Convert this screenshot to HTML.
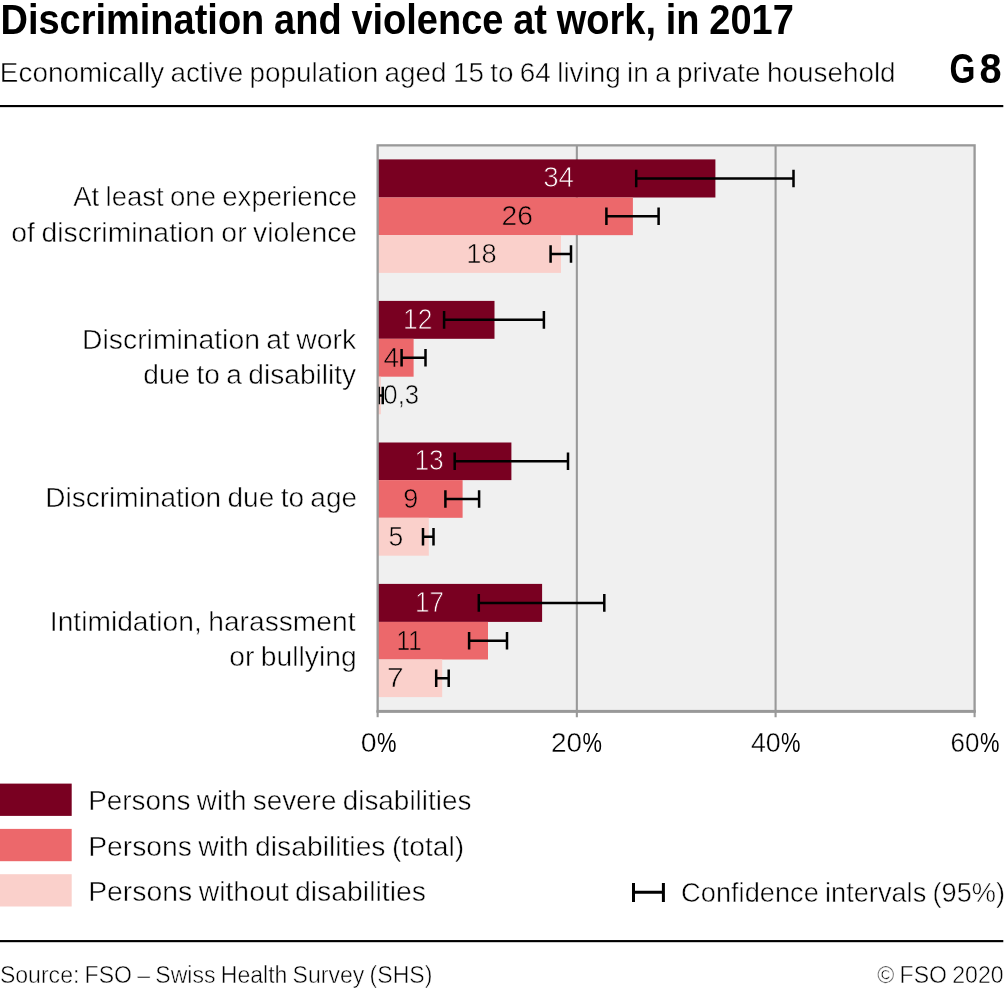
<!DOCTYPE html>
<html lang="en"><head><meta charset="utf-8"><title>Discrimination and violence at work, in 2017</title>
<style>html,body{margin:0;padding:0;background:#fff}svg{display:block}text{font-family:"Liberation Sans", sans-serif;}</style></head><body>
<svg width="1004" height="989" viewBox="0 0 1004 989">
<rect width="1004" height="989" fill="#fff"/>
<rect x="0" y="105" width="1003.3" height="2.15" fill="#000"/>
<rect x="0" y="940.05" width="1003.3" height="2.15" fill="#000"/>
<rect x="377.65" y="145.35" width="596.95" height="565.75" fill="#F0F0F0"/>
<line x1="576.85" y1="145.35" x2="576.85" y2="717.2" stroke="#999999" stroke-width="2.1"/>
<line x1="775.6" y1="145.35" x2="775.6" y2="717.2" stroke="#999999" stroke-width="2.1"/>
<rect x="377.65" y="159.4" width="337.75" height="38.1" fill="#790021"/>
<rect x="377.65" y="197.5" width="255.25" height="37.65" fill="#EC686B"/>
<rect x="377.65" y="235.15" width="183.35" height="37.75" fill="#FAD0CB"/>
<rect x="377.65" y="300.9" width="116.85" height="37.9" fill="#790021"/>
<rect x="377.65" y="338.8" width="35.95" height="37.9" fill="#EC686B"/>
<rect x="377.65" y="376.7" width="3.2" height="37.6" fill="#FAD0CB"/>
<rect x="377.65" y="442.5" width="133.75" height="37.6" fill="#790021"/>
<rect x="377.65" y="480.1" width="84.95" height="37.7" fill="#EC686B"/>
<rect x="377.65" y="517.8" width="51.15" height="37.9" fill="#FAD0CB"/>
<rect x="377.65" y="583.9" width="164.45" height="38" fill="#790021"/>
<rect x="377.65" y="621.9" width="110.35" height="37.6" fill="#EC686B"/>
<rect x="377.65" y="659.5" width="64.55" height="37.6" fill="#FAD0CB"/>
<path d="M636.2 169.65V187.25M793.5 169.65V187.25M636.2 178.45H793.5" stroke="#000" stroke-width="2.5" fill="none"/>
<path d="M606.4 207.52V225.12M658.6 207.52V225.12M606.4 216.32H658.6" stroke="#000" stroke-width="2.5" fill="none"/>
<path d="M550.6 245.22V262.82M571 245.22V262.82M550.6 254.02H571" stroke="#000" stroke-width="2.5" fill="none"/>
<path d="M444.1 311.05V328.65M543.9 311.05V328.65M444.1 319.85H543.9" stroke="#000" stroke-width="2.5" fill="none"/>
<path d="M401.6 348.95V366.55M425.5 348.95V366.55M401.6 357.75H425.5" stroke="#000" stroke-width="2.5" fill="none"/>
<path d="M378.7 386.7V404.3M382.75 386.7V404.3M378.7 395.5H382.75" stroke="#000" stroke-width="2.5" fill="none"/>
<path d="M454.7 452.5V470.1M568 452.5V470.1M454.7 461.3H568" stroke="#000" stroke-width="2.5" fill="none"/>
<path d="M445.4 490.15V507.75M479.1 490.15V507.75M445.4 498.95H479.1" stroke="#000" stroke-width="2.5" fill="none"/>
<path d="M423 527.95V545.55M433.5 527.95V545.55M423 536.75H433.5" stroke="#000" stroke-width="2.5" fill="none"/>
<path d="M478.8 594.1V611.7M604.3 594.1V611.7M478.8 602.9H604.3" stroke="#000" stroke-width="2.5" fill="none"/>
<path d="M469.1 631.9V649.5M507 631.9V649.5M469.1 640.7H507" stroke="#000" stroke-width="2.5" fill="none"/>
<path d="M436.2 669.5V687.1M448.7 669.5V687.1M436.2 678.3H448.7" stroke="#000" stroke-width="2.5" fill="none"/>
<line x1="377.65" y1="711.1" x2="377.65" y2="717.2" stroke="#999999" stroke-width="2.1"/>
<line x1="974.6" y1="711.1" x2="974.6" y2="717.2" stroke="#999999" stroke-width="2.1"/>
<rect x="377.65" y="145.35" width="596.95" height="565.75" fill="none" stroke="#999999" stroke-width="2.3"/>
<rect x="376.5" y="709.95" width="599.25" height="2.9" fill="#999999"/>
<rect x="0" y="783.6" width="71.7" height="32.3" fill="#790021"/>
<rect x="0" y="828.9" width="71.7" height="32.3" fill="#EC686B"/>
<rect x="0" y="874.2" width="71.7" height="32.3" fill="#FAD0CB"/>
<path d="M633.5 883V902.1M663.4 883V902.1M633.5 892.35H663.4" stroke="#000" stroke-width="3" fill="none"/>
<text transform="translate(0.46 34.1) scale(0.9004 1)" font-size="42.2" font-weight="bold" fill="#000" word-spacing="-0.84">Discrimination and violence at work, in 2017</text>
<text transform="translate(-0.14 81.95) scale(1.0055 1)" font-size="27.73" fill="#000" stroke="#fff" stroke-width="0.5" word-spacing="-1.39">Economically active population aged 15 to 64 living in a private household</text>
<text transform="translate(73.2 206.25) scale(0.9946 1)" font-size="27.73" fill="#000" stroke="#fff" stroke-width="0.5" word-spacing="-1.39">At least one experience</text>
<text transform="translate(11.3 242.2) scale(1.0238 1)" font-size="27.73" fill="#000" stroke="#fff" stroke-width="0.5" word-spacing="-1.39">of discrimination or violence</text>
<text transform="translate(82.12 349.15) scale(1.0212 1)" font-size="27.73" fill="#000" stroke="#fff" stroke-width="0.5" word-spacing="-1.39">Discrimination at work</text>
<text transform="translate(143.27 383.95) scale(1.0131 1)" font-size="27.73" fill="#000" stroke="#fff" stroke-width="0.5" word-spacing="-1.39">due to a disability</text>
<text transform="translate(45.35 507.15) scale(1.0102 1)" font-size="27.73" fill="#000" stroke="#fff" stroke-width="0.5" word-spacing="-1.39">Discrimination due to age</text>
<text transform="translate(49.84 631) scale(1.0168 1)" font-size="27.73" fill="#000" stroke="#fff" stroke-width="0.5" word-spacing="-1.39">Intimidation, harassment</text>
<text transform="translate(229.26 666.05) scale(1.0194 1)" font-size="27.73" fill="#000" stroke="#fff" stroke-width="0.5" word-spacing="-1.39">or bullying</text>
<text transform="translate(543.14 187.38) scale(0.9617 1)" font-size="28.78" fill="#fff" stroke="#790021" stroke-width="0.85">34</text>
<text transform="translate(501.48 225.12) scale(0.9956 1)" font-size="28.41" fill="#000" stroke="#EC686B" stroke-width="0.6">26</text>
<text transform="translate(466.23 262.82) scale(0.9600 1)" font-size="28.41" fill="#000" stroke="#FAD0CB" stroke-width="0.6">18</text>
<text transform="translate(403.09 328.78) scale(0.9194 1)" font-size="28.78" fill="#fff" stroke="#790021" stroke-width="0.85">12</text>
<text transform="translate(383.46 366.55) scale(0.9842 1)" font-size="28.41" fill="#000" stroke="#EC686B" stroke-width="0.6">4</text>
<text transform="translate(383.32 404.3) scale(0.9059 1)" font-size="28.41" fill="#000" stroke="#F0F0F0" stroke-width="0.6">0,3</text>
<text transform="translate(414.4 470.23) scale(0.9169 1)" font-size="28.78" fill="#fff" stroke="#790021" stroke-width="0.85">13</text>
<text transform="translate(403.35 507.75) scale(0.9502 1)" font-size="28.41" fill="#000" stroke="#EC686B" stroke-width="0.6">9</text>
<text transform="translate(388.56 545.55) scale(0.9323 1)" font-size="28.41" fill="#000" stroke="#FAD0CB" stroke-width="0.6">5</text>
<text transform="translate(414.93 611.82) scale(0.9049 1)" font-size="28.78" fill="#fff" stroke="#790021" stroke-width="0.85">17</text>
<text transform="translate(396.47 649.5) scale(0.8642 1)" font-size="28.41" fill="#000" stroke="#EC686B" stroke-width="0.6">11</text>
<text transform="translate(386.82 687.1) scale(1.0718 1)" font-size="28.41" fill="#000" stroke="#FAD0CB" stroke-width="0.6">7</text>
<text transform="translate(88.21 810.15) scale(1.0056 1)" font-size="27.73" fill="#000" stroke="#fff" stroke-width="0.5" word-spacing="-1.39">Persons with severe disabilities</text>
<text transform="translate(88.18 856.05) scale(1.0199 1)" font-size="27.73" fill="#000" stroke="#fff" stroke-width="0.5" word-spacing="-1.39">Persons with disabilities (total)</text>
<text transform="translate(88.17 901.1) scale(1.0233 1)" font-size="27.73" fill="#000" stroke="#fff" stroke-width="0.5" word-spacing="-1.39">Persons without disabilities</text>
<text transform="translate(681.12 902.1) scale(0.9812 1)" font-size="27.73" fill="#000" stroke="#fff" stroke-width="0.5" word-spacing="-1.39">Confidence intervals (95%)</text>
<text transform="translate(-0.08 983) scale(0.9400 1)" font-size="24.53" fill="#000" stroke="#fff" stroke-width="0.5" word-spacing="-1.23">Source: FSO – Swiss Health Survey (SHS)</text>
<text transform="translate(877.32 983) scale(0.9411 1)" font-size="24.53" fill="#000" stroke="#fff" stroke-width="0.5" word-spacing="-1.23">© FSO 2020</text>
<text y="82.6" font-size="42" font-weight="bold" fill="#000"><tspan x="949.53" textLength="25.94" lengthAdjust="spacingAndGlyphs">G</tspan><tspan x="979.54" textLength="22.08" lengthAdjust="spacingAndGlyphs">8</tspan></text>
<text y="752.1" font-size="27.98" fill="#000"><tspan x="360.68" textLength="15.83" lengthAdjust="spacingAndGlyphs" stroke="#fff" stroke-width="0.4">0</tspan><tspan x="376.92" textLength="19.46" lengthAdjust="spacingAndGlyphs">%</tspan></text>
<text y="752.1" font-size="27.98" fill="#000"><tspan x="551.09" textLength="31.1" lengthAdjust="spacingAndGlyphs" stroke="#fff" stroke-width="0.4">20</tspan><tspan x="582.62" textLength="19.46" lengthAdjust="spacingAndGlyphs">%</tspan></text>
<text y="752.1" font-size="27.98" fill="#000"><tspan x="750.9" textLength="29.74" lengthAdjust="spacingAndGlyphs" stroke="#fff" stroke-width="0.4">40</tspan><tspan x="781.12" textLength="19.46" lengthAdjust="spacingAndGlyphs">%</tspan></text>
<text y="752.1" font-size="27.98" fill="#000"><tspan x="950.49" textLength="28.91" lengthAdjust="spacingAndGlyphs" stroke="#fff" stroke-width="0.4">60</tspan><tspan x="979.92" textLength="19.46" lengthAdjust="spacingAndGlyphs">%</tspan></text>
</svg></body></html>
